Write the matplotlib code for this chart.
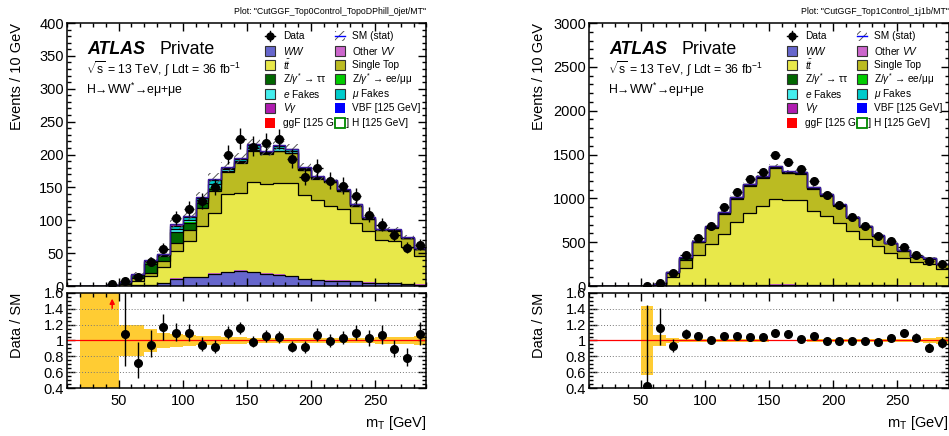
import numpy as np
import matplotlib
matplotlib.use("Agg")
import matplotlib.pyplot as plt
from matplotlib.patches import Rectangle
from matplotlib.ticker import MultipleLocator, FuncFormatter

plt.rcParams['font.family'] = ['Liberation Sans', 'DejaVu Sans']
plt.rcParams['mathtext.fontset'] = 'custom'
plt.rcParams['mathtext.rm'] = 'Liberation Sans'
plt.rcParams['mathtext.it'] = 'Liberation Sans:italic'
plt.rcParams['mathtext.bf'] = 'Liberation Sans:bold'
plt.rcParams['hatch.linewidth'] = 0.7

# mT binning: 10 GeV bins from 10 to 290 GeV
bin_edges = np.arange(10, 300, 10)
x_ticks = [50, 100, 150, 200, 250]

# ---------------- Top0Control (0 jet) ----------------
cr0_title = 'Plot: "CutGGF_Top0Control_TopoDPhill_0jet/MT"'
cr0_data = [0, 0, 0, 3, 7, 13, 37, 57, 103, 117, 129, 150, 199, 224, 212, 217,
            223, 193, 166, 179, 160, 152, 137, 108, 93, 77, 58, 62]
cr0_ww = [0, 0.2, 0.2, 0.3, 0.5, 1.0, 2.0, 5, 11, 13, 13, 19, 21, 23, 21, 19,
          17, 15, 10, 9, 8, 8, 7, 5, 4, 4, 3, 2]
cr0_othervv = [0, 0.1, 0.1, 0.1, 0.1, 0.2, 0.3, 0.3, 0.5, 0.6, 0.6, 0.7, 0.8, 0.8,
               0.8, 0.4, 0.8, 0.8, 0.7, 0.5, 0.4, 0.5, 0.5, 0.4, 0.4, 0.4, 0.4, 0.4]
cr0_ttbar = [0, 0, 0.1, 0.3, 2.0, 7.0, 13.0, 24, 41, 55.5, 77, 91.5, 117.5, 118,
             136.5, 135.5, 139, 141, 127, 122, 114, 108.5, 88, 78, 66, 63.5, 56, 42.5]
cr0_singletop = [0, 0, 0, 0.2, 1.0, 3.5, 4, 8, 13, 16.5, 28, 33, 33.5, 45.5, 46.5,
                 46.5, 48, 45, 38, 32, 36, 27, 26.5, 19, 15, 16.5, 13, 11]
cr0_ztautau = [0, 0.1, 0.1, 0.3, 1.8, 4.5, 14.7, 8.5, 17, 11, 8.4, 4, 2, 1.5, 1.5,
               0.8, 1, 1, 0.8, 0.5, 0.3, 0.3, 0.3, 0.2, 0.1, 0.1, 0.1, 0.1]
cr0_zll = [0, 0, 0, 0, 0, 0, 0.3, 0.2, 0.3, 0.3, 0.2, 0.2, 0.1, 0.1, 0.1, 0.1, 0.1,
           0.1, 0.1, 0.05, 0.05, 0.05, 0.05, 0.05, 0, 0, 0, 0]
cr0_efakes = [0, 0, 0, 0.1, 0.3, 0.4, 1.5, 1.0, 4.5, 4, 3.5, 6.25, 2.5, 2, 4, 1,
              3.5, 2.5, 1.8, 1.2, 0.9, 1.1, 1.1, 1, 0.6, 0.6, 0.6, 0.6]
cr0_mufakes = [0, 0, 0, 0, 0.3, 0.4, 1.5, 1.0, 4.5, 4, 3.5, 6.25, 2.5, 2, 4, 1,
               3.5, 2.5, 1.8, 1.2, 0.9, 1.1, 1.1, 1, 0.6, 0.6, 0.6, 0.6]
cr0_vgamma = [0, 0.1, 0.1, 0.1, 0.2, 0.3, 0.4, 0.3, 0.5, 0.5, 0.5, 0.5, 0.5, 0.5,
              0.5, 0.4, 0.4, 0.4, 0.3, 0.3, 0.3, 0.3, 0.3, 0.2, 0.2, 0.2, 0.2, 0.2]
cr0_vbf = [0, 0, 0, 0, 0, 0, 0.1, 0.1, 0.1, 0.1, 0.1, 0.1, 0.1, 0.1, 0.1, 0.05, 0.1,
           0.1, 0.05, 0.05, 0.05, 0.05, 0.05, 0.05, 0.05, 0.05, 0.05, 0.05]
cr0_ggf = [0, 0, 0, 0.1, 0.3, 0.7, 1.2, 0.6, 1.5, 1.5, 1.2, 1.5, 0.5, 0.5, 1.0,
           0.25, 0.6, 0.6, 0.45, 0.2, 0.1, 0.1, 0.1, 0.1, 0.05, 0.05, 0.05, 0.05]
cr0_mcstat = [0, 0.5, 0.6, 1.5, 1.3, 3.6, 5.5, 4.9, 7.5, 7.0, 7.5, 8.2, 8.1, 7.8,
              7.6, 7.2, 6.4, 6.3, 5.4, 5.0, 4.8, 4.4, 4.4, 3.7, 3.5, 3.4, 3.3, 3.5]

# ---------------- Top1Control (1 jet, 1 b-jet) ----------------
cr1_title = 'Plot: "CutGGF_Top1Control_1j1b/MT"'
cr1_data = [0, 0, 0, 0, 1, 30, 152, 354, 544, 688, 897, 1076, 1224, 1304, 1494,
            1411, 1331, 1198, 1038, 928, 783, 681, 570, 513, 449, 354, 289, 247]
cr1_ww = [0, 0, 0, 0, 0.1, 1, 4, 6, 8, 9, 10, 11, 12, 13, 14, 14, 13, 12, 11, 10,
          9, 8, 7, 6, 5, 5, 4, 4]
cr1_othervv = [0, 0, 0, 0, 0.03, 0.3, 0.8, 1.5, 2.0, 2.4, 2.6, 3, 3.4, 3.6, 3.8,
               3.6, 3.4, 3, 2.6, 2.4, 2.2, 1.8, 1.6, 1.3, 1.1, 1, 0.8, 0.7]
cr1_ttbar = [0, 0, 0, 0, 0.7, 11, 96, 203, 346, 470, 583, 711, 817, 900, 975, 959,
             960, 836, 787, 705, 611, 524, 449, 374, 318, 270, 246, 186]
cr1_singletop = [0, 0, 0, 0, 1.2, 10, 49, 90, 142, 186, 230, 273, 311, 313, 351,
                 307, 304, 259, 230, 197, 154, 141, 109, 104, 78, 60, 61, 58]
cr1_ztautau = [0, 0, 0, 0, 0.1, 2.5, 8, 17, 5.1, 6, 6.6, 7.5, 8.4, 9, 9.6, 9, 8.4,
               7.5, 6.6, 6, 5.4, 4.5, 3.9, 3.3, 2.7, 2.4, 2.1, 1.8]
cr1_zll = [0, 0, 0, 0, 0.02, 0.1, 0.3, 0.6, 0.85, 1, 1.1, 1.25, 1.4, 1.5, 1.6, 1.5,
           1.4, 1.25, 1.1, 1, 0.9, 0.75, 0.65, 0.55, 0.45, 0.4, 0.35, 0.3]
cr1_efakes = [0, 0, 0, 0, 0.06, 0.4, 2, 3.5, 3.4, 4, 4.4, 5, 5.6, 6, 6.4, 6, 5.6,
              5, 4.4, 4, 3.6, 3, 2.6, 2.2, 1.8, 1.6, 1.4, 1.2]
cr1_mufakes = [0, 0, 0, 0, 0.06, 0.4, 2, 3.5, 3.4, 4, 4.4, 5, 5.6, 6, 6.4, 6, 5.6,
               5, 4.4, 4, 3.6, 3, 2.6, 2.2, 1.8, 1.6, 1.4, 1.2]
cr1_vgamma = [0, 0, 0, 0, 0.01, 0.1, 0.4, 0.8, 1, 1.2, 1.3, 1.5, 1.7, 1.8, 1.9,
              1.8, 1.7, 1.5, 1.3, 1.2, 1.1, 0.9, 0.8, 0.7, 0.5, 0.5, 0.4, 0.4]
cr1_vbf = [0, 0, 0, 0, 0, 0.02, 0.1, 0.2, 0.3, 0.4, 0.4, 0.5, 0.6, 0.6, 0.6, 0.6,
           0.6, 0.5, 0.4, 0.4, 0.4, 0.3, 0.3, 0.2, 0.2, 0.2, 0.1, 0.1]
cr1_ggf = [0, 0, 0, 0, 0.02, 0.1, 0.5, 1, 0.85, 1, 1.1, 1.25, 1.4, 1.5, 1.6, 1.5,
           1.4, 1.25, 1.1, 1, 0.9, 0.75, 0.65, 0.55, 0.45, 0.4, 0.35, 0.3]
cr1_mcstat = [0, 0, 0, 0, 1.0, 1.8, 5, 7, 9, 11, 12, 14, 15, 16, 17, 16, 16, 15,
              14, 13, 12, 11, 10, 9.5, 9, 8.5, 11, 10]

# process styles: (label, colour, black outline)
STYLE = {
    'ww': (r'$WW$', '#6666cc', True),
    'othervv': (r'Other $VV$', '#cc66cc', False),
    'ttbar': (r'$t\bar{t}$', '#e8e84a', True),
    'singletop': ('Single Top', '#bbbb22', True),
    'ztautau': (r'Z/$\gamma^{*}$ → ττ', '#006600', True),
    'zll': (r'Z/$\gamma^{*}$ → ee/μμ', '#00cc00', False),
    'efakes': (r'$e$ Fakes', '#44eeee', True),
    'mufakes': (r'$\mu$ Fakes', '#00cccc', True),
    'vgamma': (r'$V\gamma$', '#b01cb0', False),
    'vbf': ('VBF [125 GeV]', '#0000ff', False),
    'ggf': ('ggF [125 GeV]', '#ff0000', False),
}


def poisson_errors(n):
    n = np.asarray(n, float)
    safe = np.maximum(n, 1e-9)
    up = n + 1.0 + np.sqrt(n + 0.75)
    lo = np.where(n > 0, n * (1 - 1 / (9 * safe) - 1 / (3 * np.sqrt(safe))) ** 3, 0.0)
    return n - lo, up - n


def style_axis(a, xmaj, xmin, ymaj, ymin):
    a.xaxis.set_major_locator(MultipleLocator(xmaj))
    a.xaxis.set_minor_locator(MultipleLocator(xmin))
    a.yaxis.set_major_locator(MultipleLocator(ymaj))
    a.yaxis.set_minor_locator(MultipleLocator(ymin))
    a.tick_params(which='both', direction='in', top=True, right=True,
                  labelsize=10.5, width=1.0, pad=2.5)
    a.tick_params(which='major', length=6)
    a.tick_params(which='minor', length=3)
    for s in a.spines.values():
        s.set_linewidth(1.1)


def draw_legend(ax):
    bw, bh = 0.028, 0.038
    rows = [0.951, 0.894, 0.840, 0.787, 0.730, 0.677, 0.620]
    cbox = [0.55, 0.745]
    ctxt = [0.60, 0.793]
    fs = 7.3
    tr = ax.transAxes
    col1 = ['data', 'ww', 'ttbar', 'ztautau', 'efakes', 'vgamma', 'ggf']
    col2 = ['stat', 'othervv', 'singletop', 'zll', 'mufakes', 'vbf', 'higgs']
    for col, keys in enumerate((col1, col2)):
        for y, key in zip(rows, keys):
            x = cbox[col]
            if key == 'data':
                ax.plot([x, x + bw], [y, y], color='k', lw=1, transform=tr, clip_on=False)
                ax.plot([x + bw / 2] * 2, [y - bh / 2, y + bh / 2], color='k', lw=1,
                        transform=tr, clip_on=False)
                ax.plot([x + bw / 2], [y], 'o', color='k', ms=5, transform=tr, clip_on=False)
                label = 'Data'
            elif key == 'stat':
                ax.add_patch(Rectangle((x, y - bh / 2), bw, bh, transform=tr,
                                       facecolor='white', edgecolor='#555555',
                                       hatch='////', lw=0, clip_on=False))
                ax.plot([x, x + bw], [y, y], color='#0000ff', lw=1, transform=tr,
                        clip_on=False)
                label = 'SM (stat)'
            elif key == 'higgs':
                ax.add_patch(Rectangle((x, y - bh / 2), bw, bh, transform=tr,
                                       facecolor='white', edgecolor='#008800',
                                       lw=1.3, clip_on=False, zorder=5))
                label = 'H [125 GeV]'
            else:
                label, color, _ = STYLE[key]
                edge = 'none' if key in ('vbf', 'ggf') else '#333333'
                ax.add_patch(Rectangle((x, y - bh / 2), bw, bh, transform=tr,
                                       facecolor=color, edgecolor=edge, lw=0.8,
                                       clip_on=False, zorder=5))
            ax.text(ctxt[col], y, label, transform=tr, fontsize=fs, va='center',
                    ha='left', zorder=2)


def draw_panel(fig, x0, procs, data, mcstat, ymax, ymaj, ymin, title):
    w = 0.3785
    ax = fig.add_axes([x0, 0.344, w, 0.6032])
    rax = fig.add_axes([x0, 0.1094, w, 0.2193])
    nb = len(bin_edges) - 1
    centers = bin_edges[:-1] + 5
    data = np.asarray(data, float)
    stat = np.asarray(mcstat, float)

    # stacked backgrounds
    bottom = np.zeros(nb)
    tops = []
    for key, vals in procs:
        top = bottom + np.asarray(vals, float)
        ax.stairs(top, bin_edges, baseline=bottom, fill=True,
                  color=STYLE[key][1], lw=0)
        tops.append((key, top))
        bottom = top
    total = bottom
    for key, top in tops:
        if STYLE[key][2]:
            ax.stairs(top, bin_edges, baseline=None, color='black', lw=0.9)
    ax.stairs(total + stat, bin_edges, baseline=total - stat, fill=True,
              facecolor='none', edgecolor='#555555', hatch='////', lw=0)
    ax.stairs(total, bin_edges, baseline=None, color='#3a1aa0', lw=1.0)

    # data points
    lo, up = poisson_errors(data)
    m = data > 0
    ax.errorbar(centers[m], data[m], yerr=[lo[m], up[m]], xerr=4, fmt='o',
                color='black', ms=5.5, lw=1, capsize=0, zorder=6)

    ax.set_xlim(10, 290)
    ax.set_ylim(0, ymax)
    style_axis(ax, 50, 10, ymaj, ymin)
    ax.tick_params(labelbottom=False)
    ax.text(-0.14, 1.0, 'Events / 10 GeV', transform=ax.transAxes, rotation=90,
            ha='center', va='top', fontsize=10.5)
    ax.text(1.0, 1.025, title, transform=ax.transAxes, ha='right', va='bottom',
            fontsize=6.3)

    tr = ax.transAxes
    ax.text(0.055, 0.882, 'ATLAS', transform=tr, fontsize=12.8, fontweight='bold',
            fontstyle='italic')
    ax.text(0.256, 0.882, 'Private', transform=tr, fontsize=12.8)
    ax.text(0.052, 0.806, r'$\sqrt{\rm s}$ = 13 TeV, $\int$ Ldt = 36 fb$^{-1}$',
            transform=tr, fontsize=8.8)
    ax.text(0.052, 0.730, r'H→WW$^{*}$→eμ+μe', transform=tr, fontsize=8.8)
    draw_legend(ax)

    # ratio panel
    has_mc = total > 0
    rel = np.where(has_mc, stat / np.where(has_mc, total, 1), 0)
    rax.stairs(1 + rel, bin_edges, baseline=1 - rel, fill=True, color='#ffcc33', lw=0)
    band = np.where(has_mc, 0.012, 0)
    rax.stairs(1 + band, bin_edges, baseline=1 - band, fill=True, color='#ff8c1a', lw=0)
    for g in (0.6, 0.8, 1.2, 1.4):
        rax.axhline(g, color='#777777', ls=(0, (1, 2)), lw=0.7)
    rax.axhline(1.0, color='red', lw=0.9)

    ok = m & has_mc
    ratio = np.where(ok, data / np.where(has_mc, total, 1), np.nan)
    rlo = np.where(ok, lo / np.where(has_mc, total, 1), 0)
    rup = np.where(ok, up / np.where(has_mc, total, 1), 0)
    inside = ok & (ratio <= 1.6)
    rax.errorbar(centers[inside], ratio[inside], yerr=[rlo[inside], rup[inside]],
                 fmt='o', color='black', ms=5.5, lw=1, capsize=0, zorder=6)
    for c in centers[ok & (ratio > 1.6)]:
        rax.annotate('', xy=(c, 1.56), xytext=(c, 1.37),
                     arrowprops=dict(arrowstyle='-|>', color='red', lw=1.1,
                                     mutation_scale=7))
    rax.set_xlim(10, 290)
    rax.set_ylim(0.4, 1.6)
    style_axis(rax, 50, 10, 0.2, 0.05)
    rax.set_xticks(x_ticks)
    rax.yaxis.set_major_formatter(FuncFormatter(lambda v, p: '%g' % round(v, 2)))
    rax.tick_params(axis='x', pad=4)
    rax.text(-0.14, 1.0, 'Data / SM', transform=rax.transAxes, rotation=90,
             ha='center', va='top', fontsize=10.5)
    rax.text(1.0, -0.40, r'm$_{\rm T}$ [GeV]', transform=rax.transAxes,
             ha='right', va='baseline', fontsize=10.5)


fig = plt.figure(figsize=(9.49, 4.36), dpi=100)

cr0 = [('ww', cr0_ww), ('othervv', cr0_othervv), ('ttbar', cr0_ttbar),
       ('singletop', cr0_singletop), ('ztautau', cr0_ztautau), ('zll', cr0_zll),
       ('efakes', cr0_efakes), ('mufakes', cr0_mufakes), ('vgamma', cr0_vgamma),
       ('vbf', cr0_vbf), ('ggf', cr0_ggf)]
cr1 = [('ww', cr1_ww), ('othervv', cr1_othervv), ('ttbar', cr1_ttbar),
       ('singletop', cr1_singletop), ('ztautau', cr1_ztautau), ('zll', cr1_zll),
       ('efakes', cr1_efakes), ('mufakes', cr1_mufakes), ('vgamma', cr1_vgamma),
       ('vbf', cr1_vbf), ('ggf', cr1_ggf)]

draw_panel(fig, 0.0709, cr0, cr0_data, cr0_mcstat, 400, 50, 10, cr0_title)
draw_panel(fig, 0.6210, cr1, cr1_data, cr1_mcstat, 3000, 500, 100, cr1_title)

fig.savefig('out.png', dpi=100)
